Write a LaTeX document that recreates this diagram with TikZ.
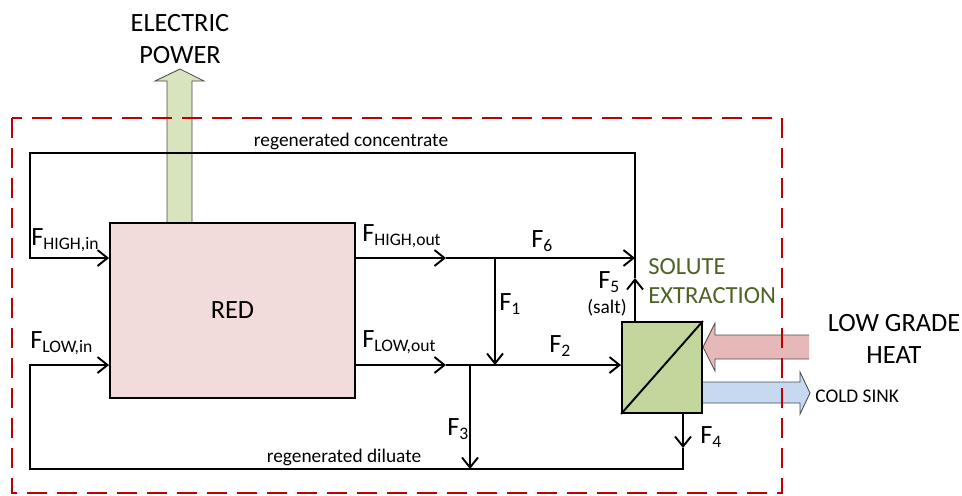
\documentclass[tikz,border=0pt]{standalone}
\usepackage{fontspec}
\setmainfont{Carlito}
\usepackage{tikz}
\usetikzlibrary{arrows.meta,calc,positioning}
\definecolor{redfill}{RGB}{242,220,219}
\definecolor{sepgreen}{RGB}{195,214,155}
\definecolor{powergreen}{RGB}{215,228,189}
\definecolor{heatred}{RGB}{230,185,184}
\definecolor{coldblue}{RGB}{198,217,240}
\definecolor{framered}{RGB}{192,0,0}
\definecolor{solutegreen}{RGB}{79,98,40}
\newcommand{\Fs}[1]{F\raisebox{-2.8pt}{\fontsize{10}{12}\selectfont #1}}

\begin{document}
\begin{tikzpicture}[x=0.02cm, y=-0.02cm,
  unit/.style={draw, line width=1.1pt, inner sep=0pt},
  big/.style={font=\fontsize{15}{18}\selectfont, inner sep=0pt},
  small/.style={font=\fontsize{11}{13}\selectfont, inner sep=0pt},
  pipe/.style={line width=1.1pt},
  arr/.style={pipe, -{Straight Barb[length=2mm, width=3.2mm]}},
  bigarrow/.style={draw=black!70, line width=0.5pt}
]
  \useasboundingbox (0,0) rectangle (962,495);

  % Power and heat arrows
  \draw[bigarrow, fill=powergreen] (167,223) -- (167,81) -- (155,81) -- (180,69)
    -- (204,81) -- (192,81) -- (192,223) -- cycle;
  \draw[bigarrow, fill=heatred] (809,335) -- (715,335) -- (715,323) -- (703,347)
    -- (715,371) -- (715,359) -- (809,359);
  \draw[bigarrow, fill=coldblue] (703,382) -- (800,382) -- (800,372) -- (810,393)
    -- (800,414) -- (800,403) -- (703,403);

  % Units
  \node[unit, fill=redfill, minimum width=4.9cm, minimum height=3.5cm, big] (red) at (232.5,310.5) {RED};
  \node[unit, fill=sepgreen, minimum width=1.6cm, minimum height=1.82cm] (sep) at (662,367.5) {};
  \draw[pipe] (sep.south west) -- (sep.north east);

  % System boundary
  \draw[framered, line width=1.1pt, dash pattern=on 0.4cm off 0.2cm] (12,118) rectangle (782,493);

  % Junctions
  \coordinate (cL) at (30,153);
  \coordinate (cR) at (635,153);
  \coordinate (hL) at (30,258);
  \coordinate (hA) at (446,258);
  \coordinate (j1) at (495,258);
  \coordinate (h6) at (635,258);
  \coordinate (lL) at (30,365);
  \coordinate (lA) at (446,365);
  \coordinate (j3) at (470,365);
  \coordinate (j2) at (495,365);
  \coordinate (a5) at (635,278);
  \coordinate (dL) at (30,469);
  \coordinate (d3) at (470,469);
  \coordinate (d4) at (683,469);
  \coordinate (a4) at (683,448);

  % Streams
  \draw[arr] (a5) -- (cR) -- (cL) -- (hL) -- (red.west |- hL);
  \draw[arr] (red.east |- hL) -- (hA);
  \draw[pipe] (hA) -- (j1);
  \draw[arr] (j1) -- (h6);
  \draw[arr] (j1) -- (j2);
  \draw[arr] (red.east |- lL) -- (lA);
  \draw[arr] (lA) -- (sep.west |- lL);
  \draw[arr] (j3) -- (d3);
  \draw[arr] (sep.north -| cR) -- (a5);
  \draw[arr] (sep.south -| d4) -- (a4);
  \draw[arr] (a4) -- (d4) -- (dL) -- (lL) -- (red.west |- lL);

  % Labels
  \node[big, anchor=base west] (fhin) at (31,245) {\Fs{HIGH,in}};
  \node[big, anchor=base west] (fhout) at (362,241) {\Fs{HIGH,out}};
  \node[big, anchor=base west] (flin) at (30,348) {\Fs{LOW,in}};
  \node[big, anchor=base west] (flout) at (362,347) {\Fs{LOW,out}};
  \node[big, anchor=base west] (f6) at (531,247) {\Fs{6}};
  \node[big, anchor=base west] (f1) at (499,310) {\Fs{1}};
  \node[big, anchor=base west] (f2) at (549,352) {\Fs{2}};
  \node[big, anchor=base west] (f5) at (598,288) {\Fs{5}};
  \node[small, anchor=base] (salt) at (607,313) {(salt)};
  \node[big, anchor=base west] (f3) at (447,435) {\Fs{3}};
  \node[big, anchor=base west] (f4) at (700,443) {\Fs{4}};
  \node[small, anchor=base] (conc) at (351,146) {regenerated concentrate};
  \node[small, anchor=base] (dil) at (344,462) {regenerated diluate};
  \node[big, align=center] (power) at (180,39) {ELECTRIC\\POWER};
  \node[big, align=center] (heat) at (894,339) {LOW GRADE\\HEAT};
  \node[font=\fontsize{14}{16.5}\selectfont, text=solutegreen, align=left,
        anchor=north west, inner sep=0pt] (solute) at (648,258) {SOLUTE\\EXTRACTION};
  \node[small, anchor=base west] (cold) at (815,402) {COLD SINK};
\end{tikzpicture}
\end{document}
